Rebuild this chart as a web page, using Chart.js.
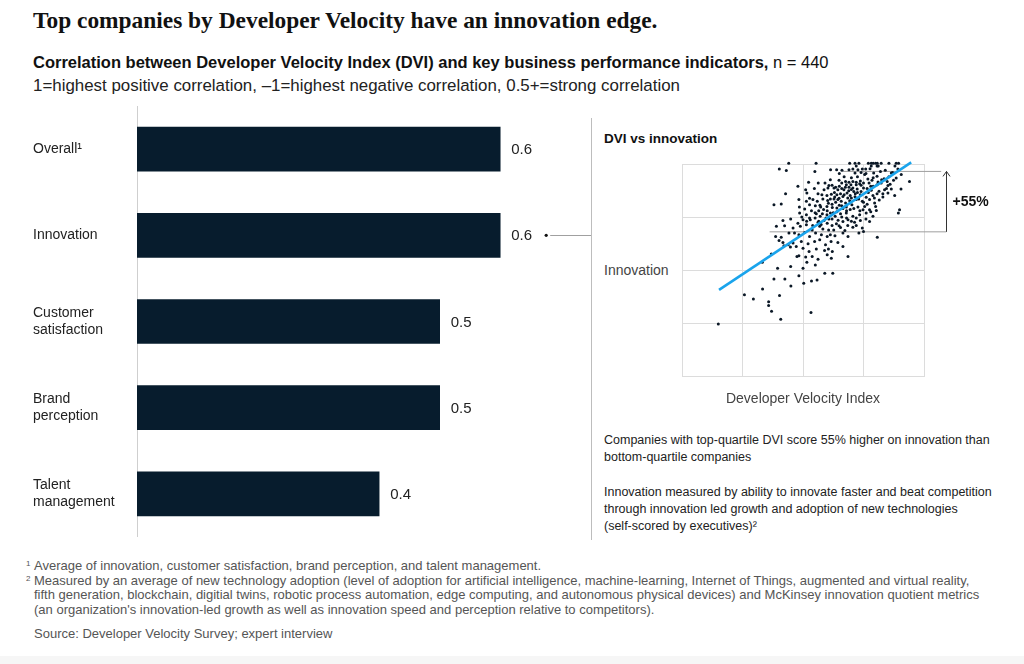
<!DOCTYPE html>
<html>
<head>
<meta charset="utf-8">
<script src="https://cdn.jsdelivr.net/npm/chart.js"></script>
<style>
  body { margin: 0; background: #fff; font-family: "Liberation Sans", Arial, sans-serif; color: #222; }
  #page { position: relative; width: 1024px; height: 664px; overflow: hidden; }
  .t { position: absolute; white-space: nowrap; }
  #title { left: 33px; top: 6px; font: bold 23.4px/28px "Liberation Serif", serif; color: #111; }
  #sub1 { left: 33px; top: 52px; font-size: 16.5px; line-height: 20px; color: #111; }
  #sub2 { left: 33px; top: 76px; font-size: 16.9px; line-height: 20px; color: #222; }
  #divider { position: absolute; left: 591px; top: 118px; width: 1px; height: 422px; background: #bdbdbd; }
  #scTitle { left: 604px; top: 130px; font-size: 13.5px; line-height: 18px; font-weight: bold; color: #111; }
  #yTitle { left: 604px; top: 261px; font-size: 14px; line-height: 18px; color: #444; }
  #xTitle { left: 703px; top: 389px; width: 200px; text-align: center; font-size: 14px; line-height: 18px; color: #444; }
  .para { position: absolute; left: 604px; font-size: 12.5px; line-height: 17px; color: #222; white-space: nowrap; }
  #notes { position: absolute; left: 34px; top: 559px; font-size: 13px; line-height: 14.7px; color: #555; white-space: nowrap; }
  #notes .m { position: absolute; left: -8px; font-size: 8px; line-height: 10px; }
  #source { left: 34px; top: 626px; font-size: 13px; line-height: 16px; color: #555; }
  #band { position: absolute; left: 0; top: 656px; width: 1024px; height: 8px; background: #f6f6f6; }
  .box { position: absolute; }
</style>
</head>
<body>
<div id="page">
  <div class="t" id="title">Top companies by Developer Velocity have an innovation edge.</div>
  <div class="t" id="sub1"><b>Correlation between Developer Velocity Index (DVI) and key business performance indicators,</b> n = 440</div>
  <div class="t" id="sub2">1=highest positive correlation, –1=highest negative correlation, 0.5+=strong correlation</div>

  <div class="box" style="left:0;top:106px;width:591px;height:431px"><canvas id="barchart"></canvas></div>
  <div id="divider"></div>

  <div class="t" id="scTitle">DVI vs innovation</div>
  <div class="t" id="yTitle">Innovation</div>
  <div class="box" style="left:600px;top:150px;width:410px;height:240px"><canvas id="scatterchart"></canvas></div>
  <div class="t" id="xTitle">Developer Velocity Index</div>

  <div class="para" style="top:432px">Companies with top-quartile DVI score 55% higher on innovation than<br>bottom-quartile companies</div>
  <div class="para" style="top:484px">Innovation measured by ability to innovate faster and beat competition<br>through innovation led growth and adoption of new technologies<br>(self-scored by executives)²</div>

  <div id="notes">
    <span class="m" style="top:0">1</span>Average of innovation, customer satisfaction, brand perception, and talent management.<br>
    <span class="m" style="top:14.7px">2</span>Measured by an average of new technology adoption (level of adoption for artificial intelligence, machine-learning, Internet of Things, augmented and virtual reality,<br>
    fifth generation, blockchain, digitial twins, robotic process automation, edge computing, and autonomous physical devices) and McKinsey innovation quotient metrics<br>
    (an organization's innovation-led growth as well as innovation speed and perception relative to competitors).
  </div>
  <div class="t" id="source">Source: Developer Velocity Survey; expert interview</div>
  <div id="band"></div>
</div>

<script>
// correlation with DVI
var barLabels = ['Overall¹', 'Innovation', ['Customer', 'satisfaction'], ['Brand', 'perception'], ['Talent', 'management']]
var barValues = [0.6, 0.6, 0.5, 0.5, 0.4]

// scatter: DVI (x) vs innovation (y) on a 0-100 grid
var dvi = [
  15,25.8,29.5,33.3,35.8,35.8,37,40.8,38,40.3,39.5,42.5,45,48.3,50,50.3,53.3,53.5,55.8,59,62.3,
  33.2,51.6,55.1,44.9,
  47.5,48.3,51.1,53.8,56.2,61.7,60,
  36.9,42.1,44.8,47.2,50,52.5,55.5,58.9,60.5,62.1,68.6,
  40.1,41.7,43.9,45.9,49.3,52.1,54.8,56.9,59.3,61.6,64.4,66.5,
  38.7,41,44.2,46.5,48.3,50.7,52.7,55.2,57.6,60,61.3,63.2,66.5,68.6,73.1,75,80.7,
  39,42.4,45.9,48.9,51.4,53.8,56.9,58.2,60.6,62.7,64.9,67.3,70.6,74.5,
  41.7,44.9,47.9,50,53,56.2,58.7,60.7,63.8,66.5,68.6,71.3,73.7,77.5,
  48.6,51.4,52.7,55.5,57.1,59.9,61.3,63.3,65.5,67.9,70.6,73.4,76.1,78.9,
  48.5,50.7,52.7,55.1,57.3,59.9,62.1,64,66,67.9,70.2,72.7,74.8,77.5,80.3,89.9,89.4,
  38,41,48.3,51.4,54.1,55.9,58.2,60.2,61.3,62.8,64.4,65.8,67.6,69.3,72,74.5,77.5,79.6,
  42.8,51.6,52.7,56.2,57.8,59.9,61.7,63.1,64.9,66.5,68.2,69.5,71.6,73.7,76.1,78.9,80.6,83,85.1,87.9,
  47.9,51.1,54.7,58.7,60.3,62.8,64.4,66.9,68.9,70.6,72.4,75,78.2,81.4,83.7,86.5,90.5,
  52.3,56.3,59.1,60.7,66,67.9,69.8,72,73.4,77.3,79,80.6,82.3,85.1,
  64.9,67.6,69,70.6,72,73.7,75,76.8,78.5,82.5,84.8,87.4,94,61.3,
  71.5,75.5,79.2,80.6,86.5,90.6,88.5,
  40.2,43.1,54.9,61.4,63.9,66.1,69,70.6,72.7,74.5,75.9,77.7,89.2,
  72,78.2,80.6,81.1,
  44.1,55.4,69.3,71.5,73.1,77,78.2,79,80,80.7,82.3,85.5,88.5,89.5,
  62,63.5,65,66,67.5,69,70,71,72.5,74,63,64,65.5,67,68.5,70,71.5,73,75,76.5,
  60.5,62,63.5,65,66.5,68,69.5,71,57,58.5,60,62.5,64,53.5,55,56.5,58,59.5,62,64.5,
  66,68,70,72,55,56.5,49.5,51.5,54,57.5,60,62,65.5,68.5,72,76,78,80,81.5,83,
  84.5,86,77,79.5,75.5,73.5,74,76.5,78,79,81,83.5,85.5,87,88,84,82,76,74,72.5,70,67,65
]
var innovation = [
  24.5,38.3,36.3,41,35,33.3,30.5,26.8,45.8,38,50.8,45.8,42.5,47.3,50.8,43.8,30,44.8,45.3,48.5,48.5,
  53.6,53.6,52.4,51.7,
  56.4,56.7,56.1,56.4,55.1,55.6,57.2,
  57.5,61.4,60.8,61.1,60.3,58.7,59.9,59.2,59.9,58.7,56.4,
  63.9,63,61.9,62.7,63.5,62.4,63.5,64.3,61.9,63.5,63,61.1,
  65.8,65.5,67.4,67.4,66.6,67.7,65.8,67.4,66.6,65.8,66.6,66.2,67.4,65.8,67.4,68.2,65.5,
  70.6,70.9,69.8,70.6,71.3,68.9,70.6,69.3,68.9,68.9,70.9,68.6,70.2,69.8,
  73.4,74,72.1,73.7,73.7,72.5,73.4,74,71.8,72.9,73.7,72.5,73.4,72.9,
  76.9,76.1,74.5,76.5,75.3,76.1,76.9,75.3,76.5,76.9,75.3,76.1,76.9,75.3,
  79.7,78.8,80.8,80.3,79.7,80,79.5,79.2,80.3,79.7,80.8,79.7,78.4,78.4,78.1,78.4,76.9,
  80.8,81.1,83.2,82.4,83.2,82.4,83.5,82.8,83.5,83.5,83.2,82.4,81.6,82.7,83.2,82.4,83.2,81.6,
  86,86.3,83.9,86,85.5,85.1,85.7,84.4,83.9,84.7,86.3,85.1,86,85.5,84.3,85.1,86,84.4,86.3,85.1,
  89.5,87.9,88.5,87.9,88.7,88.7,87.9,87.9,87.4,88.7,88.2,88.7,87.6,87.1,87.9,88.2,88.2,
  91.4,91,91,89.9,91,90.2,90.2,90.2,90.7,91,89.5,90.2,91,89.8,
  92.3,91.8,91.4,91.8,91.4,92,91,92.9,92.3,92.6,91.8,92.3,91.7,92.6,
  95.8,95,95.8,94.2,95.8,95,93.4,
  97.7,96.9,96.5,97.3,97.3,97,97.3,97.7,97.3,97.7,97.7,97.8,97.7,
  99.1,99.1,99.1,99.1,
  100.3,100.3,100.3,100.3,100.3,100.3,100.3,100.3,100.3,100.3,100.3,100.3,100.3,100.3,
  90,89,89.5,88.5,89,89,88,87,86.5,87,86.5,85.5,86,85.5,84,84,84.5,83.5,82,81,
  81.5,81,82,80.5,79,78,78.5,79,80.5,78.5,78,77,77.5,78,77,78,76.5,74.5,74,73.5,
  75,74.5,73,74.5,74.5,73,75,73,71,71.5,72,71,70,71,71,74,77.5,80,83,86,
  88.5,90.5,86.5,84,80,78,90,88.5,89.5,93.5,91.5,93,94,96,99,97,96.5,95.5,96,94,93.5,94,95.5
]
var trendX = [15.3, 94.7]
var trendY = [40.6, 100.8]
// bottom and top quartile averages, and where their guide lines run
var quartileY = [68, 96.5]
var quartileFrom = [36.2, 66.5]
var quartileTo = [109.2, 107.1]
var arrowX = 108.9
var arrowLabel = '+55%'

var points = []
for (var i = 0; i < dvi.length; i++) {
  points.push({x: dvi[i], y: innovation[i]})
}

var barValueLabels = {
  id: 'barValueLabels',
  afterDatasetsDraw: function(chart) {
    var ctx = chart.ctx
    var meta = chart.getDatasetMeta(0)
    ctx.save()
    ctx.font = '15px "Liberation Sans", Arial, sans-serif'
    ctx.fillStyle = '#222'
    ctx.textBaseline = 'middle'
    meta.data.forEach(function(bar, i) {
      ctx.fillText(barValues[i].toFixed(1), bar.x + 11, bar.y + 1)
    })
    // innovation bar links to the scatter panel
    var b = meta.data[1]
    ctx.fillStyle = '#111'
    ctx.beginPath()
    ctx.arc(b.x + 46, b.y, 1.6, 0, Math.PI * 2)
    ctx.fill()
    ctx.strokeStyle = '#a0a0a0'
    ctx.lineWidth = 1
    ctx.beginPath()
    ctx.moveTo(b.x + 50, Math.round(b.y) + 0.5)
    ctx.lineTo(chart.width, Math.round(b.y) + 0.5)
    ctx.stroke()
    ctx.restore()
  }
}

var quartileArrow = {
  id: 'quartileArrow',
  afterDatasetsDraw: function(chart) {
    var ctx = chart.ctx
    var xs = chart.scales.x, ys = chart.scales.y
    var ax = Math.round(xs.getPixelForValue(arrowX)) + 0.5
    var y0 = ys.getPixelForValue(quartileY[0])
    var y1 = ys.getPixelForValue(quartileY[1])
    ctx.save()
    ctx.strokeStyle = '#333'
    ctx.lineWidth = 1
    ctx.beginPath()
    ctx.moveTo(ax, y0)
    ctx.lineTo(ax, y1)
    ctx.moveTo(ax - 3.5, y1 + 5)
    ctx.lineTo(ax, y1)
    ctx.lineTo(ax + 3.5, y1 + 5)
    ctx.stroke()
    ctx.font = 'bold 14px "Liberation Sans", Arial, sans-serif'
    ctx.fillStyle = '#111'
    ctx.textBaseline = 'middle'
    ctx.fillText(arrowLabel, ax + 6, (y0 + y1) / 2 + 1)
    ctx.restore()
  }
}

var ctx = document.getElementById('barchart').getContext('2d')
var barChart = new Chart(ctx, {
  type: 'bar',
  data: {
    labels: barLabels,
    datasets: [{
      data: barValues,
      backgroundColor: '#071c2d',
      barThickness: 44
    }]
  },
  options: {
    indexAxis: 'y',
    responsive: true,
    maintainAspectRatio: false,
    animation: false,
    layout: { padding: { left: 33, right: 0, top: 0, bottom: 0 } },
    plugins: { legend: { display: false }, tooltip: { enabled: false } },
    scales: {
      x: { display: false, min: 0, max: 0.75 },
      y: {
        grid: { display: false },
        border: { display: true, color: '#cfcfcf', width: 1 },
        ticks: {
          crossAlign: 'far',
          color: '#222',
          font: { size: 14, family: '"Liberation Sans", Arial, sans-serif', lineHeight: 1.2 }
        },
        afterFit: function(scale) {
          scale.width = 104
          scale.paddingTop = 0
          scale.paddingBottom = 0
        }
      }
    }
  },
  plugins: [barValueLabels]
})

var ctx = document.getElementById('scatterchart').getContext('2d')
var scatterChart = new Chart(ctx, {
  type: 'scatter',
  data: {
    datasets: [{
      data: points,
      backgroundColor: '#0b1826',
      borderWidth: 0,
      pointRadius: 1.5,
      clip: false,
      order: 2
    }, {
      type: 'line',
      data: [{x: trendX[0], y: trendY[0]}, {x: trendX[1], y: trendY[1]}],
      borderColor: '#1aa4ec',
      borderWidth: 2.6,
      pointRadius: 0,
      clip: false,
      order: 1
    }, {
      type: 'line',
      data: [{x: quartileFrom[0], y: quartileY[0]}, {x: quartileTo[0], y: quartileY[0]}],
      borderColor: '#9e9e9e',
      borderWidth: 1,
      pointRadius: 0,
      clip: false,
      order: 3
    }, {
      type: 'line',
      data: [{x: quartileFrom[1], y: quartileY[1]}, {x: quartileTo[1], y: quartileY[1]}],
      borderColor: '#9e9e9e',
      borderWidth: 1,
      pointRadius: 0,
      clip: false,
      order: 3
    }]
  },
  options: {
    responsive: true,
    maintainAspectRatio: false,
    animation: false,
    layout: { padding: { left: 82, right: 86, top: 14, bottom: 14 } },
    plugins: { legend: { display: false }, tooltip: { enabled: false } },
    scales: {
      x: {
        min: 0, max: 100,
        ticks: { display: false, stepSize: 25 },
        grid: { color: '#dcdcdc', drawTicks: false },
        border: { color: '#dcdcdc' },
        afterFit: function(scale) { scale.height = 0 }
      },
      y: {
        min: 0, max: 100,
        ticks: { display: false, stepSize: 25 },
        grid: { color: '#dcdcdc', drawTicks: false },
        border: { color: '#dcdcdc' },
        afterFit: function(scale) { scale.width = 0 }
      }
    }
  },
  plugins: [quartileArrow]
})
</script>
</body>
</html>
